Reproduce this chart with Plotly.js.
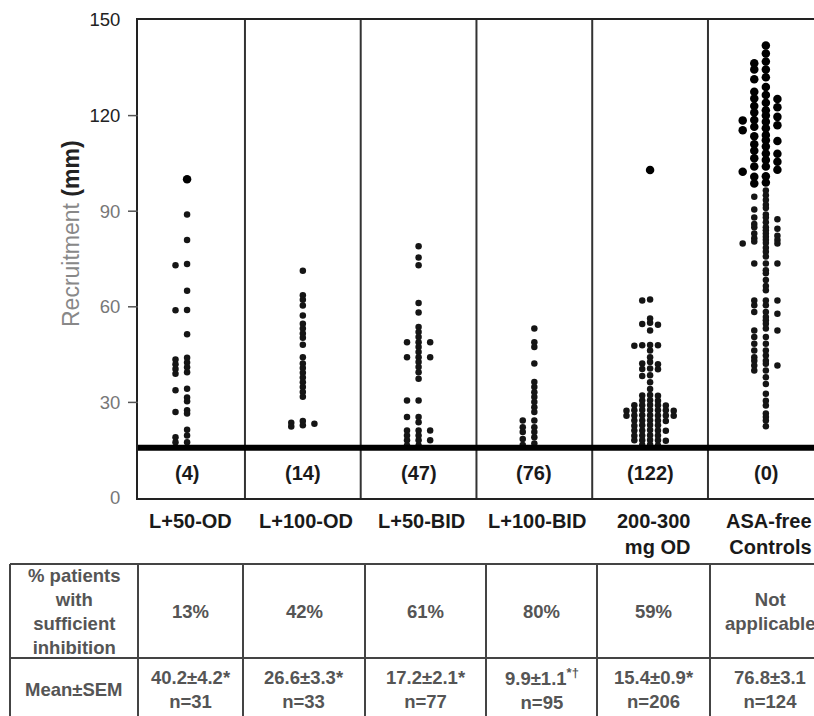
<!DOCTYPE html>
<html><head><meta charset="utf-8">
<script src="https://cdn.plot.ly/plotly-3.0.1.min.js"></script>
<style>html,body{margin:0;padding:0;overflow:hidden;background:#fff}</style>
</head><body>
<div id="chart" style="width:814px;height:716px"></div>
<script>
// ---------------- data ----------------
const categories = ['L+50-OD', 'L+100-OD', 'L+50-BID', 'L+100-BID', '200-300<br>mg OD', 'ASA-free<br>Controls'];
const belowCutCounts = ['(4)', '(14)', '(47)', '(76)', '(122)', '(0)'];
const pctSufficient = ['13%', '42%', '61%', '80%', '59%', 'Not<br>applicable'];
const meanSem = ['40.2±4.2*', '26.6±3.3*', '17.2±2.1*', '9.9±1.1<sup>*†</sup>', '15.4±0.9*', '76.8±3.1'];
const nPatients = ['n=31', 'n=33', 'n=77', 'n=95', 'n=206', 'n=124'];
const rowLabels = ['% patients<br>with<br>sufficient<br>inhibition', 'Mean±SEM'];
const yTickVals = [0, 30, 60, 90, 120, 150];

const recruitL50OD = [100, 89, 81, 73.4, 73, 65, 59, 58.9, 51.4, 44, 43.5, 42.5, 42, 41, 40.5, 39.5, 39,
  34.3, 33.8, 31.5, 30.4, 27.5, 27, 26.5, 21.4, 19.6, 19.1, 17.5, 17.5];
const recruitL100OD = [71.3, 63.6, 62.2, 60.4, 57.3, 54.7, 53.2, 51.6, 50.3, 48.1, 44.2, 42.2, 40.8, 39.3,
  37.8, 36.3, 34.8, 33.3, 31.8, 24.2, 23.6, 23.3, 22.8, 22.4];
const recruitL50BID = [79, 75.5, 73, 61.2, 58.2, 53.7, 52.1, 50.5, 48.9, 48.9, 48.9, 47.4, 45.8, 44.2, 44.2,
  44.2, 42.7, 41.1, 39.5, 37.4, 30.6, 30.6, 25.4, 25.4, 23.8, 21.2, 21.2, 21.2, 19.6, 19.6, 18.1, 18.1,
  18.1, 16.5, 16.5];
const recruitL100BID = [53.2, 48.9, 47.4, 42.2, 36.4, 34.8, 33.2, 31.7, 30.1, 28.5, 27, 24.3, 24.3, 22.2,
  22.2, 20.7, 20.7, 19.1, 18.5, 17.1, 16.6];
const recruit200300 = [102.9, 62.3, 62.0, 56.3, 55.0, 54.6, 54.4, 52.6, 48.0, 47.9, 47.9, 47.8, 46.3, 44.2,
  42.7, 42.2, 42.0, 40.6, 40.5, 40.4, 38.5, 38.3, 36.3, 34.2, 32.3, 32.2, 32.1, 30.7, 30.6, 30.5,
  29.2, 29.1, 29.1, 29.0, 29.1, 27.6, 27.5, 27.5, 27.4, 27.6, 27.5, 27.4,
  25.9, 26.0, 25.8, 25.9, 26.0, 25.9, 25.8, 24.3, 24.4, 24.2, 24.3, 24.3,
  22.8, 22.9, 22.7, 22.8, 21.2, 21.3, 21.1, 21.2, 21.2, 19.6, 19.7, 19.5, 19.6,
  18.1, 18.2, 18.0, 18.1, 18.1, 16.6, 16.7, 16.5];
const recruitControls = [142, 139.5, 137, 136.4, 134.5, 134.5, 132, 131.4, 129, 127.5, 126.5, 125.4, 125.2,
  124, 123, 122.6, 121.7, 121, 120, 119.6, 118.6, 118.5, 118.1, 117, 116.5, 116, 115.4, 113.9, 113.5,
  112.3, 112, 111, 110.3, 109, 108.1, 108, 106.6, 106.1, 105.5, 104, 104, 103, 102.4, 101, 100.8, 99, 98.7,
  96.5, 95, 94.5, 93.5, 92, 91, 90.5, 89, 88, 88, 87.5, 86.5, 86, 85, 85, 84.5, 84, 83, 83, 82.3, 82,
  81.5, 81, 81, 80.5, 80, 79.9, 79.9, 78.5, 77.3, 75.8, 73.6, 73.6, 73.6, 71.5, 70.5, 68.4, 66.5, 65.2,
  62, 62, 62, 60.5, 60.5, 58.4, 58.4, 57.8, 56.8, 55.8, 54.7, 53.2, 52.6, 52.6, 50.5, 50.5, 48.4, 48.4,
  46.3, 46.3, 44.7, 44.2, 43.1, 43.1, 42.1, 41.6, 41.6, 40, 40, 37.9, 35.8, 32.7, 30.5, 29, 26.5, 25.4,
  24.3, 22.5];
const groups = [recruitL50OD, recruitL100OD, recruitL50BID, recruitL100BID, recruit200300, recruitControls];

// ---------------- layout geometry ----------------
const FONT = 'Liberation Sans, Arial, sans-serif';
const PL = 138, PW = 676, PB = 498, PH = 478;          // plot area in pixels
const px2x = p => (p - PL) / PW;                       // pixel -> paper x
const px2y = p => (PB - p) / PH;                       // pixel -> paper y
const bigCut = 97;                                     // large black dots above this
const laneStep = [0.1, 0.1, 0.1, 0.1, 0.068, 0.1];

function swarm(vals, step) {
  const lanes = [0, -1, 1, -2, 2, -3, 3, -4, 4, -5, 5];
  const placed = [];
  const off = new Array(vals.length);
  vals.map((v, i) => ({v, i})).sort((a, b) => b.v - a.v).forEach(({v, i}) => {
    const r = v >= bigCut ? 1.6 : 1.0;
    for (const ln of lanes) {
      if (!placed.some(p => p.ln === ln && Math.abs(p.v - v) < Math.max(r, p.r))) {
        placed.push({v, ln, r}); off[i] = ln * step; return;
      }
    }
    off[i] = 0;
  });
  return off;
}

const traces = groups.map((vals, k) => {
  const off = swarm(vals, laneStep[k]);
  return {
    type: 'scatter', mode: 'markers', name: categories[k].replace('<br>', ' '),
    x: off.map(o => k + 0.5 + o), y: vals,
    marker: {
      size: vals.map(v => v >= bigCut ? 8.5 : 6.5),
      color: vals.map(v => v >= bigCut ? '#000' : '#151515'),
      opacity: 1,
      line: {width: 0}
    },
    hoverinfo: 'y', showlegend: false, cliponaxis: true
  };
});

const shapes = [];
for (let k = 1; k <= 5; k++) {
  shapes.push({type: 'line', xref: 'x', yref: 'y', x0: k, x1: k, y0: 0, y1: 150, line: {color: '#333', width: 2}});
}
shapes.push({type: 'line', xref: 'paper', yref: 'y', x0: 0, x1: 1, y0: 15.8, y1: 15.8, line: {color: '#000', width: 6}});
[30, 60, 90, 120].forEach(v => shapes.push({type: 'line', xref: 'paper', yref: 'y',
  x0: -10 / PW, x1: 0, y0: v, y1: v, line: {color: '#555', width: 1.5}}));

// table
const tCols = [10, 138, 243, 365, 486, 597, 710];
const tTop = 564, tMid = 658;
tCols.forEach(c => shapes.push({type: 'line', xref: 'paper', yref: 'paper',
  x0: px2x(c), x1: px2x(c), y0: px2y(tTop), y1: px2y(760), line: {color: '#444', width: 2}}));
[tTop, tMid].forEach(r => shapes.push({type: 'line', xref: 'paper', yref: 'paper',
  x0: px2x(10), x1: px2x(840), y0: px2y(r), y1: px2y(r), line: {color: '#444', width: 2}}));

const annotations = [];
categories.forEach((c, k) => {
  annotations.push({xref: 'x', yref: 'paper', x: k + 0.5, y: px2y(508), xanchor: 'center', yanchor: 'top',
    xshift: 3, align: 'right', text: c, showarrow: false,
    font: {family: FONT, size: 20, color: '#1a1a1a', weight: 'bold'}});
  annotations.push({xref: 'x', yref: 'y', x: k + 0.5, y: 8, xanchor: 'center', yanchor: 'middle',
    text: belowCutCounts[k], showarrow: false,
    font: {family: FONT, size: 20, color: '#1a1a1a', weight: 'bold'}});
});
const cellCenters = [190.5, 304, 425.5, 541.5, 653.5, 770];
const tFont = {family: FONT, size: 18.5, color: '#555', weight: 'bold'};
annotations.push({xref: 'paper', yref: 'paper', x: px2x(74), y: px2y(611), text: rowLabels[0],
  showarrow: false, xanchor: 'center', yanchor: 'middle', font: tFont});
annotations.push({xref: 'paper', yref: 'paper', x: px2x(74), y: px2y(689), text: rowLabels[1],
  showarrow: false, xanchor: 'center', yanchor: 'middle', font: tFont});
cellCenters.forEach((cx, k) => {
  annotations.push({xref: 'paper', yref: 'paper', x: px2x(cx), y: px2y(611), text: pctSufficient[k],
    showarrow: false, xanchor: 'center', yanchor: 'middle', font: tFont});
  annotations.push({xref: 'paper', yref: 'paper', x: px2x(cx), y: px2y(689),
    text: meanSem[k] + '<br>' + nPatients[k],
    showarrow: false, xanchor: 'center', yanchor: 'middle', font: tFont});
});
annotations.push({xref: 'paper', yref: 'paper', x: px2x(71), y: px2y(234), textangle: -90,
  xanchor: 'center', yanchor: 'middle', showarrow: false,
  text: 'Recruitment <span style="color:#222"><b>(mm)</b></span>',
  font: {family: FONT, size: 23, color: '#888'}});

const tickColors = ['#777', '#777', '#777', '#777', '#222', '#222'];
const layout = {
  width: 814, height: 716,
  margin: {l: PL, r: 0, t: 20, b: 716 - PB, pad: 0},
  paper_bgcolor: '#fff', plot_bgcolor: '#fff',
  font: {family: FONT},
  xaxis: {type: 'linear', range: [0.076, 5.916], showticklabels: false, ticks: '', showgrid: false,
    zeroline: false, showline: true, mirror: true, linewidth: 2, linecolor: '#222', fixedrange: true},
  yaxis: {range: [0, 150], tickvals: yTickVals,
    ticktext: yTickVals.map((v, i) => '<span style="color:' + tickColors[i] + '">' + v + '</span>'),
    ticks: 'outside', ticklen: 12, tickcolor: 'rgba(0,0,0,0)', showgrid: false, zeroline: false,
    showline: true, linewidth: 2, linecolor: '#222',
    tickfont: {family: FONT, size: 18.5, color: '#222'}, fixedrange: true},
  shapes: shapes, annotations: annotations, showlegend: false
};
Plotly.newPlot('chart', traces, layout, {displayModeBar: false, staticPlot: true});
</script>
</body></html>
